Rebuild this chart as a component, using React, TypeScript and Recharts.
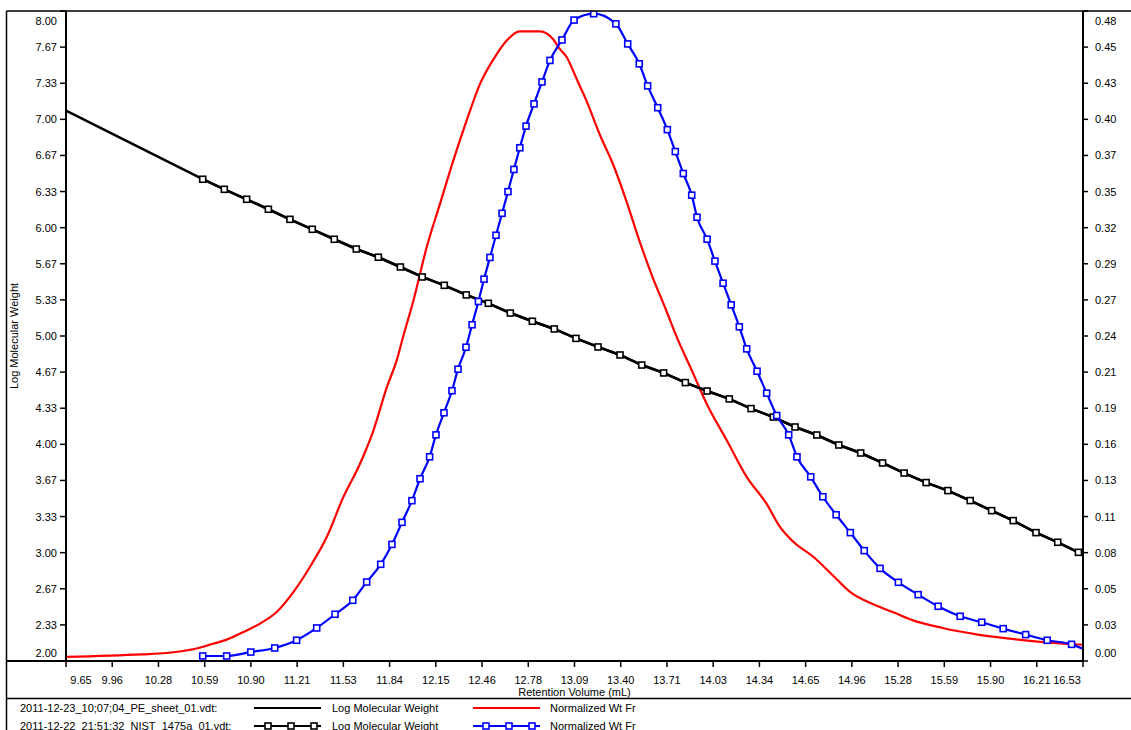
import React from 'react';
import { ComposedChart, Line, XAxis, YAxis } from 'recharts';

// tick labels
const xTickLabels = ['9.65', '9.96', '10.28', '10.59', '10.90', '11.21', '11.53', '11.84', '12.15', '12.46', '12.78', '13.09', '13.40', '13.71', '14.03', '14.34', '14.65', '14.96', '15.28', '15.59', '15.90', '16.21', '16.53'];
const lmwTickLabels = ['2.00', '2.33', '2.67', '3.00', '3.33', '3.67', '4.00', '4.33', '4.67', '5.00', '5.33', '5.67', '6.00', '6.33', '6.67', '7.00', '7.33', '7.67', '8.00'];
const wfTickLabels = ['0.00', '0.03', '0.05', '0.08', '0.11', '0.13', '0.16', '0.19', '0.21', '0.24', '0.27', '0.29', '0.32', '0.35', '0.37', '0.40', '0.43', '0.45', '0.48'];

const xDomain = [9.65, 16.53];
const lmwDomain = [2, 8];
const wfDomain = [0, 0.48];

// legend
const fileNames = ['2011-12-23_10;07;04_PE_sheet_01.vdt:', '2011-12-22_21;51;32_NIST_1475a_01.vdt:'];
const seriesNames = ['Log Molecular Weight', 'Normalized Wt Fr'];

// PE sheet - log molecular weight (calibration, no markers)
const peLmwVolume = [9.65, 10.575, 10.721, 10.872, 11.019, 11.165, 11.316, 11.465, 11.614, 11.763, 11.912, 12.06, 12.209, 12.358, 12.507, 12.656, 12.805, 12.953, 13.1, 13.249, 13.398, 13.545, 13.693, 13.84, 13.987, 14.137, 14.284, 14.435, 14.582, 14.729, 14.878, 15.026, 15.174, 15.32, 15.469, 15.616, 15.767, 15.912, 16.058, 16.212, 16.359, 16.499, 16.53];
const peLmwValue = [7.08, 6.447, 6.354, 6.262, 6.17, 6.077, 5.985, 5.893, 5.803, 5.727, 5.637, 5.545, 5.468, 5.379, 5.302, 5.212, 5.136, 5.065, 4.978, 4.899, 4.825, 4.732, 4.659, 4.57, 4.492, 4.419, 4.33, 4.252, 4.16, 4.086, 3.994, 3.92, 3.828, 3.735, 3.647, 3.573, 3.481, 3.388, 3.296, 3.185, 3.096, 3.003, 2.985];

// PE sheet - normalized wt fraction
const peWfVolume = [9.65, 10.16, 10.33, 10.444, 10.534, 10.624, 10.737, 10.85, 10.962, 11.075, 11.188, 11.3, 11.414, 11.526, 11.639, 11.729, 11.82, 11.887, 11.932, 12.0, 12.09, 12.18, 12.27, 12.36, 12.45, 12.563, 12.63, 12.72, 12.857, 12.947, 12.99, 13.037, 13.08, 13.116, 13.17, 13.26, 13.35, 13.44, 13.53, 13.62, 13.71, 13.775, 13.894, 13.984, 14.12, 14.255, 14.39, 14.48, 14.57, 14.705, 14.84, 14.954, 15.13, 15.247, 15.38, 15.58, 15.81, 16.036, 16.26, 16.53];
const peWfValue = [0.003, 0.0049, 0.0059, 0.0074, 0.0092, 0.0121, 0.0158, 0.0214, 0.0276, 0.0362, 0.0509, 0.0694, 0.0915, 0.121, 0.1457, 0.17, 0.202, 0.222, 0.24, 0.266, 0.3055, 0.3376, 0.3695, 0.399, 0.426, 0.448, 0.458, 0.465, 0.465, 0.459, 0.452, 0.446, 0.436, 0.427, 0.414, 0.389, 0.367, 0.34, 0.31, 0.283, 0.259, 0.241, 0.212, 0.19, 0.163, 0.136, 0.116, 0.099, 0.088, 0.077, 0.063, 0.051, 0.041, 0.036, 0.03, 0.0244, 0.0197, 0.0165, 0.014, 0.012];

// NIST 1475a - log molecular weight
const nistLmwVolume = [10.575, 10.721, 10.872, 11.019, 11.165, 11.316, 11.465, 11.614, 11.763, 11.912, 12.06, 12.209, 12.358, 12.507, 12.656, 12.805, 12.953, 13.1, 13.249, 13.398, 13.545, 13.693, 13.84, 13.987, 14.137, 14.284, 14.435, 14.582, 14.729, 14.878, 15.026, 15.174, 15.32, 15.469, 15.616, 15.767, 15.912, 16.058, 16.212, 16.359, 16.499, 16.53];
const nistLmwValue = [6.447, 6.354, 6.262, 6.17, 6.077, 5.985, 5.893, 5.803, 5.727, 5.637, 5.545, 5.468, 5.379, 5.302, 5.212, 5.136, 5.065, 4.978, 4.899, 4.825, 4.732, 4.659, 4.57, 4.492, 4.419, 4.33, 4.252, 4.16, 4.086, 3.994, 3.92, 3.828, 3.735, 3.647, 3.573, 3.481, 3.388, 3.296, 3.185, 3.096, 3.003, 2.985];

// NIST 1475a - normalized wt fraction
const nistWfVolume = [10.575, 10.737, 10.9, 11.062, 11.21, 11.346, 11.47, 11.59, 11.684, 11.779, 11.855, 11.923, 11.99, 12.045, 12.11, 12.153, 12.207, 12.261, 12.302, 12.356, 12.397, 12.44, 12.478, 12.518, 12.559, 12.6, 12.64, 12.68, 12.72, 12.762, 12.816, 12.87, 12.924, 13.005, 13.087, 13.22, 13.37, 13.45, 13.528, 13.585, 13.653, 13.718, 13.772, 13.826, 13.883, 13.919, 13.987, 14.04, 14.095, 14.15, 14.205, 14.255, 14.325, 14.39, 14.458, 14.539, 14.595, 14.688, 14.77, 14.86, 14.956, 15.05, 15.157, 15.281, 15.415, 15.55, 15.699, 15.845, 15.99, 16.142, 16.288, 16.453, 16.53];
const nistWfValue = [0.0037, 0.0037, 0.0066, 0.0096, 0.0153, 0.0244, 0.0345, 0.0448, 0.0583, 0.0714, 0.0861, 0.1024, 0.1184, 0.1346, 0.1508, 0.167, 0.1833, 0.1996, 0.2155, 0.2317, 0.2483, 0.2655, 0.282, 0.298, 0.3144, 0.3306, 0.3466, 0.363, 0.379, 0.395, 0.4114, 0.4276, 0.4435, 0.4586, 0.4733, 0.478, 0.4705, 0.4557, 0.441, 0.4247, 0.4086, 0.3924, 0.3762, 0.36, 0.344, 0.3277, 0.3115, 0.2953, 0.279, 0.263, 0.2468, 0.2305, 0.214, 0.1978, 0.1813, 0.167, 0.1508, 0.136, 0.1213, 0.108, 0.0948, 0.0815, 0.0684, 0.0581, 0.049, 0.0404, 0.033, 0.0286, 0.0239, 0.0195, 0.0153, 0.0123, 0.009];

const toPoints = (vols: number[], vals: number[]) => vols.map((v, i) => ({ v, y: vals[i] }));
const peLmw = toPoints(peLmwVolume, peLmwValue);
const peWf = toPoints(peWfVolume, peWfValue);
const nistLmw = toPoints(nistLmwVolume, nistLmwValue);
const nistWf = toPoints(nistWfVolume, nistWfValue);

// evenly spaced ticks, labelled from the arrays above
const spread = (labels: string[], dom: number[]) =>
  labels.map((_, i) => dom[0] + (i * (dom[1] - dom[0])) / (labels.length - 1));
const xTicks = spread(xTickLabels, xDomain);
const lmwTicks = spread(lmwTickLabels, lmwDomain);
const wfTicks = spread(wfTickLabels, wfDomain);
const labelFor = (ticks: number[], labels: string[], value: number) => {
  const i = ticks.findIndex((t) => Math.abs(t - value) < 1e-6);
  return i >= 0 ? labels[i] : '';
};

const W = 1131;
const H = 730;
const PL = 66;
const PR = 1083;
const PT = 11;
const PB = 661;
const FONT = '"Liberation Sans", Arial, sans-serif';
const FS = 11;

const XTick = ({ x, payload }: any) => {
  const cx = Math.min(Math.max(x, PL + 15), PR - 16);
  return (
    <text x={cx} y={684} textAnchor="middle" fontSize={FS} fontFamily={FONT} fill="#000">
      {labelFor(xTicks, xTickLabels, payload.value)}
    </text>
  );
};

const LeftTick = ({ y, payload }: any) => {
  const cy = Math.min(Math.max(y, PT + 10), PB - 8);
  return (
    <text x={57} y={cy + 4} textAnchor="end" fontSize={FS} fontFamily={FONT} fill="#000">
      {labelFor(lmwTicks, lmwTickLabels, payload.value)}
    </text>
  );
};

const RightTick = ({ y, payload }: any) => {
  const cy = Math.min(Math.max(y, PT + 10), PB - 8);
  return (
    <text x={1095} y={cy + 4} textAnchor="start" fontSize={FS} fontFamily={FONT} fill="#000">
      {labelFor(wfTicks, wfTickLabels, payload.value)}
    </text>
  );
};

const squareDot = (color: string, count: number) => (p: any) => {
  if (p.index === count - 1) return <g key={`d-${color}-${p.index}`} />;
  return (
    <rect key={`d-${color}-${p.index}`} x={p.cx - 3} y={p.cy - 3} width={6} height={6} fill="#fff" stroke={color} strokeWidth={1.6} />
  );
};

const LegendSample = ({ x1, x2, y, color, marks }: any) => (
  <g>
    <line x1={x1} x2={x2} y1={y} y2={y} stroke={color} strokeWidth={2} />
    {marks.map((m: number) => (
      <rect key={m} x={m - 3} y={y - 3} width={6} height={6} fill="#fff" stroke={color} strokeWidth={1.6} />
    ))}
  </g>
);

export default function App() {
  return (
    <div style={{ position: 'relative', width: W, height: H, background: '#fff', overflow: 'hidden' }}>
      <style>{'body{margin:0;background:#fff}'}</style>
      <ComposedChart width={W} height={H} margin={{ top: PT, right: 0, bottom: 0, left: 0 }}>
        <XAxis
          type="number"
          dataKey="v"
          domain={xDomain}
          ticks={xTicks}
          interval={0}
          allowDataOverflow
          height={H - PB}
          tickSize={6}
          axisLine={{ stroke: '#000', strokeWidth: 2 }}
          tickLine={{ stroke: '#000', strokeWidth: 1.5 }}
          tick={<XTick />}
        />
        <YAxis
          yAxisId="lmw"
          orientation="left"
          type="number"
          domain={lmwDomain}
          ticks={lmwTicks}
          interval={0}
          allowDataOverflow
          width={PL}
          tickSize={6}
          axisLine={{ stroke: '#000', strokeWidth: 2 }}
          tickLine={{ stroke: '#000', strokeWidth: 1.5 }}
          tick={<LeftTick />}
        />
        <YAxis
          yAxisId="wf"
          orientation="right"
          type="number"
          domain={wfDomain}
          ticks={wfTicks}
          interval={0}
          allowDataOverflow
          width={W - PR}
          tickSize={5}
          axisLine={{ stroke: '#000', strokeWidth: 2 }}
          tickLine={{ stroke: '#000', strokeWidth: 1.5 }}
          tick={<RightTick />}
        />
        <Line yAxisId="lmw" data={peLmw} dataKey="y" type="linear" stroke="#000" strokeWidth={2.5} dot={false} activeDot={false} isAnimationActive={false} />
        <Line yAxisId="wf" data={peWf} dataKey="y" type="monotone" stroke="#ff0000" strokeWidth={2.2} dot={false} activeDot={false} isAnimationActive={false} />
        <Line yAxisId="lmw" data={nistLmw} dataKey="y" type="linear" stroke="#000" strokeWidth={2.5} dot={squareDot('#000', nistLmw.length)} activeDot={false} isAnimationActive={false} />
        <Line yAxisId="wf" data={nistWf} dataKey="y" type="monotone" stroke="#0000ff" strokeWidth={2.2} dot={squareDot('#0000ff', nistWf.length)} activeDot={false} isAnimationActive={false} />
      </ComposedChart>
      <svg width={W} height={H} style={{ position: 'absolute', left: 0, top: 0, pointerEvents: 'none' }} fontFamily={FONT}>
        <line x1={6.5} x2={W} y1={PT} y2={PT} stroke="#000" strokeWidth={1.5} />
        <line x1={6.5} x2={6.5} y1={PT} y2={H} stroke="#000" strokeWidth={1.5} />
        <line x1={6.5} x2={PL} y1={PB} y2={PB} stroke="#000" strokeWidth={2} />
        <line x1={6.5} x2={W} y1={698.5} y2={698.5} stroke="#000" strokeWidth={1.5} />
        <text x={14} y={336} transform="rotate(-90 14 336)" textAnchor="middle" dominantBaseline="central" fontSize={FS} fill="#000">
          {seriesNames[0]}
        </text>
        <text x={1137} y={336} transform="rotate(-90 1137 336)" textAnchor="middle" dominantBaseline="central" fontSize={FS} fill="#000">
          {seriesNames[1]}
        </text>
        <text x={(PL + PR) / 2} y={696} textAnchor="middle" fontSize={FS} fill="#000">
          Retention Volume (mL)
        </text>
        <text x={20} y={712} fontSize={FS} fill="#000">{fileNames[0]}</text>
        <LegendSample x1={254} x2={321} y={708} color="#000" marks={[]} />
        <text x={332} y={712} fontSize={FS} fill="#000">{seriesNames[0]}</text>
        <LegendSample x1={473} x2={540} y={708} color="#ff0000" marks={[]} />
        <text x={550} y={712} fontSize={FS} fill="#000">{seriesNames[1]}</text>
        <text x={20} y={730} fontSize={FS} fill="#000">{fileNames[1]}</text>
        <LegendSample x1={254} x2={321} y={726} color="#000" marks={[268, 291, 314]} />
        <text x={332} y={730} fontSize={FS} fill="#000">{seriesNames[0]}</text>
        <LegendSample x1={473} x2={540} y={726} color="#0000ff" marks={[486, 509, 532]} />
        <text x={550} y={730} fontSize={FS} fill="#000">{seriesNames[1]}</text>
      </svg>
    </div>
  );
}
